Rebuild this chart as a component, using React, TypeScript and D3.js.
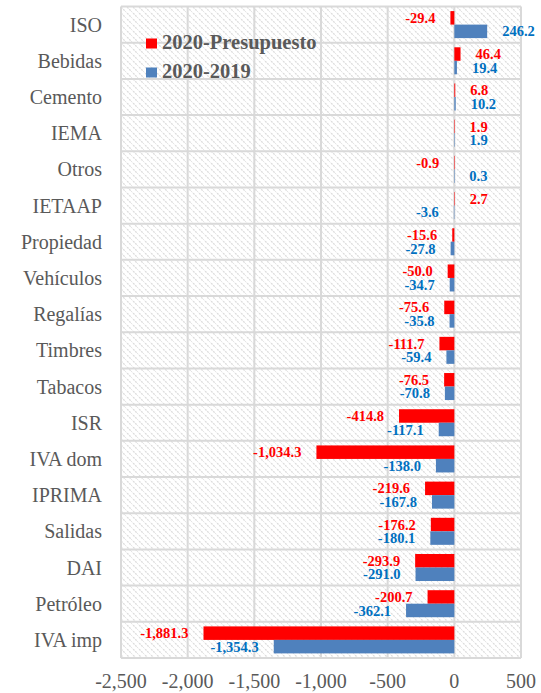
import React from "react";
import * as d3 from "d3";

const categories = ["ISO","Bebidas","Cemento","IEMA","Otros","IETAAP","Propiedad","Vehículos","Regalías","Timbres","Tabacos","ISR","IVA dom","IPRIMA","Salidas","DAI","Petróleo","IVA imp"];
const presupuesto = [-29.4,46.4,6.8,1.9,-0.9,2.7,-15.6,-50.0,-75.6,-111.7,-76.5,-414.8,-1034.3,-219.6,-176.2,-293.9,-200.7,-1881.3];
const vs2019 = [246.2,19.4,10.2,1.9,0.3,-3.6,-27.8,-34.7,-35.8,-59.4,-70.8,-117.1,-138.0,-167.8,-180.1,-291.0,-362.1,-1354.3];
const seriesNames = ["2020-Presupuesto","2020-2019"];
const xTicks = [-2500,-2000,-1500,-1000,-500,0,500];

const W = 541, H = 693;
const L = 121, R = 521, T = 6.5, B = 658;
const barColors = ["#FF0000", "#4F81BD"];
const labelColors = ["#FF0000", "#0070C0"];
const FONT = "'Liberation Serif','Times New Roman',serif";

const hy = (s: string) => s.replace(/\u2212/g, "-");

export default function App() {
  const x = d3.scaleLinear().domain([-2500, 500]).range([L, R]);
  const y = d3.scaleBand<string>().domain(categories).range([T, B]).padding(0);
  const inner = d3.scaleBand<number>().domain([0, 1]).range([0, y.bandwidth()]).paddingInner(0).paddingOuter(0.34);
  const fmt = d3.format(",.1f");
  const series = [presupuesto, vs2019];

  return (
    <svg width={W} height={H} style={{ position: "absolute", left: 0, top: 0, background: "#fff" }}>
      <defs>
        <pattern id="hatch" width="6" height="6" patternUnits="userSpaceOnUse">
          <rect width="6" height="6" fill="#fff" />
          <path d="M-1,-1 L7,7 M-4,2 L2,8 M2,-4 L8,2" stroke="#dcdcdc" strokeWidth="1.3" strokeDasharray="2,1" />
        </pattern>
      </defs>
      <rect x={L} y={T} width={R - L} height={B - T} fill="url(#hatch)" />
      {d3.range(categories.length + 1).map((i) => {
        const yy = T + i * y.step();
        return <line key={"h" + i} x1={L} x2={R} y1={yy} y2={yy} stroke="#d9d9d9" strokeWidth={2} />;
      })}
      {xTicks.map((t) => (
        <line key={"v" + t} x1={x(t)} x2={x(t)} y1={T} y2={B} stroke="#d9d9d9" strokeWidth={2} />
      ))}
      {series.map((vals, si) =>
        vals.map((v, i) => {
          const by = (y(categories[i]) as number) + (inner(si) as number);
          const x0 = x(Math.min(0, v));
          const w = Math.abs(x(v) - x(0));
          return <rect key={si + "-" + i} x={x0} y={by} width={Math.max(w, 0.5)} height={inner.bandwidth()} fill={barColors[si]} />;
        })
      )}
      {series.map((vals, si) =>
        vals.map((v, i) => {
          const cy = (y(categories[i]) as number) + (inner(si) as number) + inner.bandwidth() / 2;
          const neg = v < 0;
          const tx = neg ? x(v) - 15 : x(v) + 15;
          return (
            <text key={"l" + si + "-" + i} x={tx} y={cy} dy="0.35em" textAnchor={neg ? "end" : "start"}
              fontFamily={FONT} fontWeight="bold" fontSize={14.5} fill={labelColors[si]}>
              {hy(fmt(v))}
            </text>
          );
        })
      )}
      {categories.map((c) => (
        <text key={"c" + c} x={102} y={(y(c) as number) + y.bandwidth() / 2} dy="0.35em" textAnchor="end"
          fontFamily={FONT} fontSize={20} fill="#595959">{c}</text>
      ))}
      {xTicks.map((t) => (
        <text key={"t" + t} x={x(t)} y={688} textAnchor="middle" fontFamily={FONT} fontSize={20} fill="#595959">
          {hy(d3.format(",")(t))}
        </text>
      ))}
      {seriesNames.map((n, i) => (
        <g key={"lg" + i} transform={`translate(146, ${i === 0 ? 38.5 : 67.5})`}>
          <rect x={0} y={0} width={11} height={10} fill={barColors[i]} />
          <text x={16} y={10.5} fontFamily={FONT} fontWeight="bold" fontSize={20.5} fill="#595959">{n}</text>
        </g>
      ))}
    </svg>
  );
}
